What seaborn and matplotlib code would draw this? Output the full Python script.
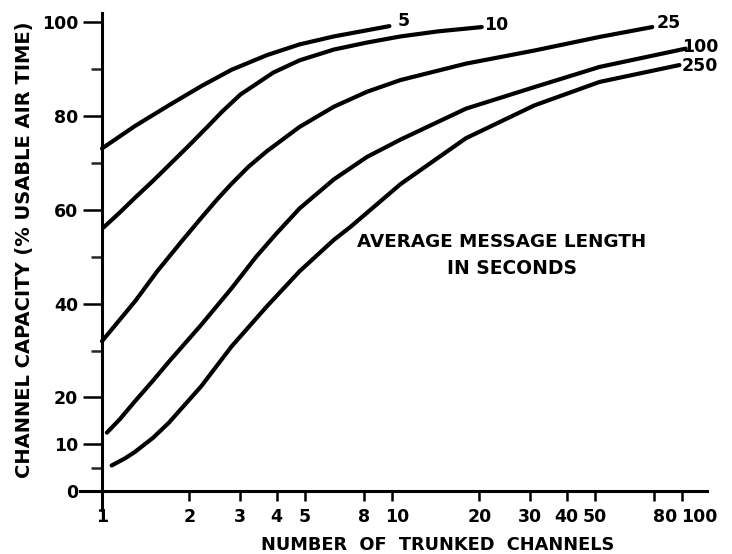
import matplotlib
matplotlib.use('Agg')
import matplotlib.pyplot as plt
import matplotlib.transforms as mtransforms
import seaborn as sns
import pandas as pd
from matplotlib.ticker import FixedLocator, NullLocator, FixedFormatter

# Style
sns.set_style('white')
plt.rcParams['font.family'] = ['DejaVu Sans']
plt.rcParams['text.color'] = 'black'

# Channel capacity curves (x = number of channels, y = % usable air time)
n_5 = [1, 1.3, 1.7, 2.2, 2.8, 3.7, 4.8, 6.3, 9.8]
cap_5 = [73.1, 77.9, 82.3, 86.4, 89.9, 93.0, 95.3, 97.0, 99.2]

n_10 = [1.01, 1.15, 1.3, 1.5, 1.7, 2.0, 2.3, 2.6, 3.0, 3.9, 4.8, 6.3, 8.2, 10.7, 14.5, 20.4]
cap_10 = [56.2, 59.4, 62.6, 66.2, 69.5, 73.8, 77.6, 81.0, 84.6, 89.3, 91.9, 94.2, 95.7, 97.0, 98.1, 99.0]

n_25 = [1, 1.3, 1.55, 1.9, 2.2, 2.5, 2.8, 3.2, 3.7, 4.8, 6.3, 8.2, 10.7, 18, 31, 52, 79]
cap_25 = [32.0, 40.5, 46.9, 53.6, 58.3, 62.3, 65.6, 69.2, 72.5, 77.7, 82.0, 85.2, 87.7, 91.2, 94.0, 96.9, 99.0]

n_100 = [1.04, 1.15, 1.3, 1.5, 1.7, 2.2, 2.8, 3.4, 4.0, 4.8, 6.3, 8.2, 10.7, 18, 31, 52, 103]
cap_100 = [12.5, 15.3, 19.2, 23.6, 27.6, 35.5, 43.3, 50.0, 55.0, 60.3, 66.5, 71.3, 75.0, 81.6, 86.2, 90.5, 94.4]

n_250 = [1.08, 1.2, 1.3, 1.5, 1.7, 2.2, 2.8, 3.7, 4.8, 6.3, 7.2, 10.7, 18, 31, 52, 98]
cap_250 = [5.5, 7.0, 8.4, 11.4, 14.6, 22.4, 30.9, 39.4, 46.9, 53.6, 56.4, 65.5, 75.3, 82.3, 87.3, 90.9]

msg_lengths = ['5', '10', '25', '100', '250']

# curve end labels (anchor positions in data coords)
label_n = [10.5, 20.8, 81.6, 100.2, 99.7]
label_cap = [100.4, 99.4, 99.8, 94.7, 90.6]

x_ticks = [1, 2, 3, 4, 5, 8, 10, 20, 30, 40, 50, 80, 100]
y_major = [0, 10, 20, 40, 60, 80, 100]
y_minor = [5, 30, 50, 70, 90]

series = {'5': (n_5, cap_5), '10': (n_10, cap_10), '25': (n_25, cap_25),
          '100': (n_100, cap_100), '250': (n_250, cap_250)}
df = pd.concat([pd.DataFrame({'channels': n, 'capacity': c, 'length': k})
                for k, (n, c) in series.items()], ignore_index=True)

fig = plt.figure(figsize=(7.32, 5.54), dpi=100)
ax = fig.add_axes([80 / 732, 1 - 510 / 554, 627 / 732, 497 / 554])

sns.lineplot(data=df, x='channels', y='capacity', units='length', estimator=None,
             color='black', linewidth=3.0, sort=False, ax=ax, legend=False,
             solid_capstyle='round', solid_joinstyle='round')

ax.set_xscale('log')
ax.set_xlim(0.84, 122)
ax.set_ylim(-4, 102)

# axes drawn as crossing lines
for s in ['top', 'right']:
    ax.spines[s].set_visible(False)
ax.spines['left'].set_position(('data', 1))
ax.spines['bottom'].set_position(('data', 0))
for s in ['left', 'bottom']:
    ax.spines[s].set_linewidth(2.2)
    ax.spines[s].set_color('black')

ax.xaxis.set_major_locator(FixedLocator(x_ticks))
ax.xaxis.set_major_formatter(FixedFormatter([str(t) for t in x_ticks]))
ax.xaxis.set_minor_locator(NullLocator())
ax.yaxis.set_major_locator(FixedLocator(y_major))
ax.yaxis.set_minor_locator(FixedLocator(y_minor))

ax.tick_params(axis='x', which='major', direction='out', length=7, width=1.8,
               pad=5, labelsize=12.5, colors='black', bottom=True)
ax.tick_params(axis='y', which='major', direction='out', length=14, width=1.8,
               pad=3, labelsize=12.5, colors='black', left=True)
ax.tick_params(axis='y', which='minor', direction='out', length=8, width=1.8, left=True)
for lab in ax.get_xticklabels() + ax.get_yticklabels():
    lab.set_fontweight('bold')

# the hand lettering sits a little right of a few ticks
shift_px = {'10': 5, '80': 11, '100': 17}
for lab in ax.get_xticklabels():
    dx = shift_px.get(lab.get_text(), 0)
    if dx:
        lab.set_transform(lab.get_transform() +
                          mtransforms.ScaledTranslation(dx / 100, 0, fig.dpi_scale_trans))

ax.set_xlabel('')
ax.set_ylabel('')

for txt, xn, yc in zip(msg_lengths, label_n, label_cap):
    ax.text(xn, yc, txt, ha='left', va='center', fontsize=12.5, fontweight='bold')

fig.text(502 / 732, 1 - 242 / 554, 'AVERAGE MESSAGE LENGTH', ha='center', va='center',
         fontsize=13.2, fontweight='bold')
fig.text(512 / 732, 1 - 268 / 554, 'IN SECONDS', ha='center', va='center',
         fontsize=13.5, fontweight='bold')
fig.text(438 / 732, 1 - 545 / 554, 'NUMBER  OF  TRUNKED  CHANNELS', ha='center', va='center',
         fontsize=12.8, fontweight='bold')
fig.text(25 / 732, 1 - 250 / 554, 'CHANNEL CAPACITY (% USABLE AIR TIME)', ha='center',
         va='center', rotation=90, fontsize=14, fontweight='bold')

fig.savefig('out.png', dpi=100)
